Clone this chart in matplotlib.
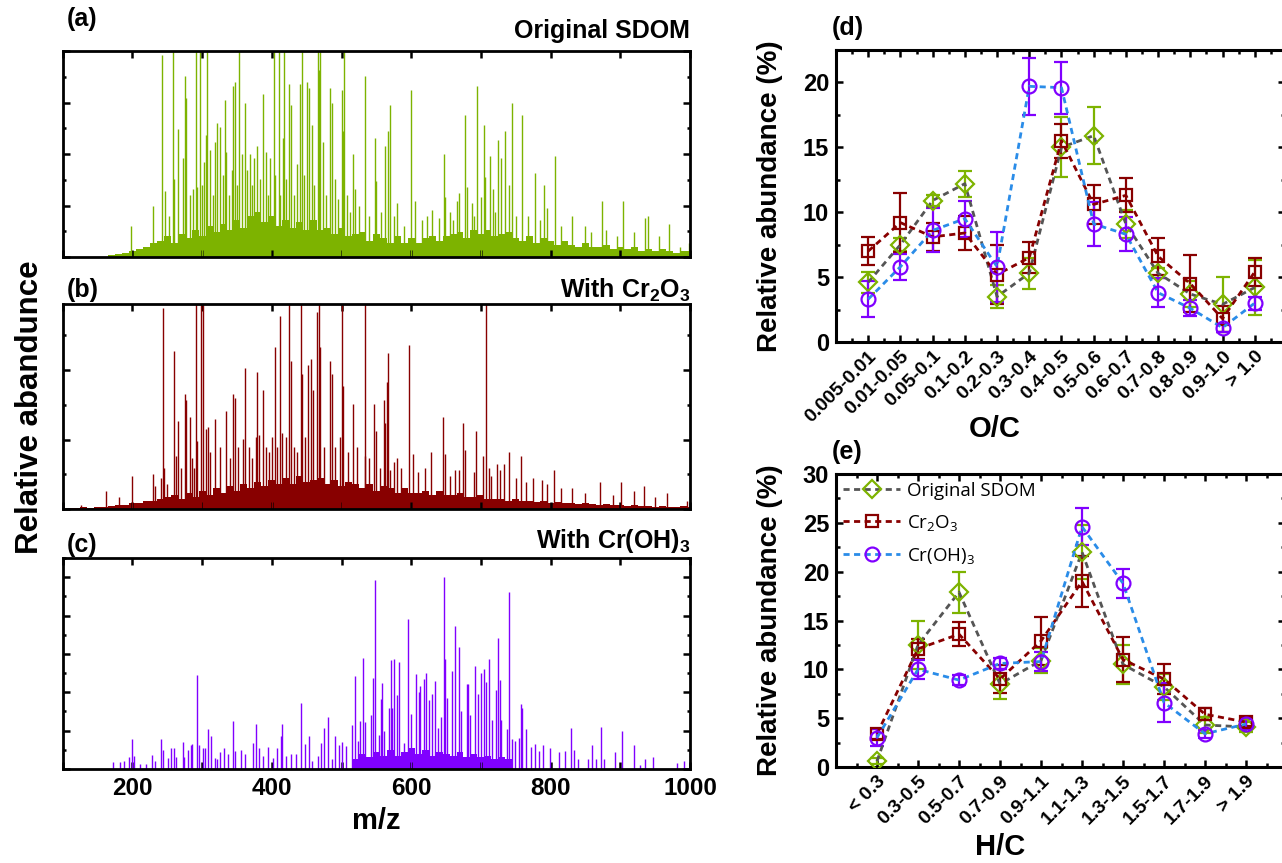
import matplotlib
matplotlib.use("Agg")
import matplotlib.pyplot as plt
from matplotlib.ticker import MultipleLocator, NullFormatter

plt.rcParams['font.family'] = ['Liberation Sans', 'DejaVu Sans']
plt.rcParams['font.weight'] = 'bold'
plt.rcParams['mathtext.default'] = 'regular'

# ---------------- spectra data (m/z, relative height) ----------------
# (a) original SDOM
a_grass_mz = list(range(170, 1001, 10))
a_grass_h = [0.01, 0.015, 0.02, 0.03, 0.04, 0.05, 0.07, 0.08, 0.10, 0.07, 0.11, 0.09, 0.13, 0.10,
             0.15, 0.12, 0.16, 0.13, 0.18, 0.14, 0.20, 0.22, 0.17, 0.20, 0.15, 0.18, 0.14, 0.17,
             0.13, 0.18, 0.13, 0.14, 0.11, 0.14, 0.10, 0.11, 0.12, 0.08, 0.11, 0.09, 0.07, 0.10,
             0.07, 0.09, 0.07, 0.09, 0.10, 0.08, 0.10, 0.11, 0.12, 0.09, 0.13, 0.11, 0.13, 0.10,
             0.11, 0.12, 0.09, 0.08, 0.10, 0.07, 0.09, 0.08, 0.06, 0.08, 0.06, 0.05, 0.07, 0.05,
             0.05, 0.06, 0.04, 0.05, 0.04, 0.05, 0.03, 0.04, 0.03, 0.04, 0.03, 0.02, 0.03, 0.03]
a_mz = [198, 229, 242, 247, 258, 260, 265, 273, 275, 277, 287, 291, 292, 297, 303, 305, 307, 311,
        319, 321, 326, 333, 335, 343, 345, 347, 353, 357, 362, 369, 374, 379, 387, 392, 397, 403,
        410, 416, 418, 425, 427, 440, 443, 451, 454, 457, 466, 468, 469, 474, 483, 486, 500, 502,
        503, 516, 520, 534, 548, 550, 563, 566, 569, 576, 580, 599, 606, 630, 640, 647, 649, 665,
        669, 677, 680, 687, 695, 700, 705, 706, 713, 718, 725, 729, 735, 740, 744, 759, 777, 790,
        795, 807, 831, 849, 874, 904, 936, 940, 970, 985, 998,
        252, 282, 300, 315, 330, 338, 350, 365, 372, 383, 395, 405, 412, 421, 432, 436, 446, 461,
        478, 490, 495, 508, 512, 525, 540, 556, 590, 615, 622, 655, 660, 690, 720, 750, 768, 785,
        815, 858, 880, 895, 920, 955]
a_h = [0.15, 0.25, 0.98, 0.32, 1.2, 0.38, 0.62, 0.48, 0.88, 0.77, 0.33, 1.2, 0.34, 1.2, 0.46, 0.59,
       1.2, 0.52, 0.56, 0.65, 0.63, 0.76, 0.51, 0.42, 0.83, 0.85, 1.2, 0.50, 0.75, 0.50, 0.48, 0.54,
       0.79, 0.51, 0.48, 1.2, 1.2, 0.58, 1.2, 0.84, 0.74, 0.84, 1.2, 0.85, 0.82, 0.64, 1.2, 0.91,
       1.2, 0.56, 0.82, 0.75, 0.81, 0.61, 1.2, 0.50, 0.33, 0.88, 0.58, 0.37, 0.54, 0.61, 0.74, 0.20,
       0.26, 0.81, 0.27, 0.23, 0.19, 0.50, 0.29, 0.27, 0.31, 0.69, 0.34, 0.26, 0.83, 0.29, 0.64,
       0.39, 0.49, 0.33, 0.57, 0.48, 0.61, 0.35, 0.75, 0.69, 0.41, 0.35, 0.24, 0.49, 0.20, 0.15,
       0.27, 0.27, 0.19, 0.20, 0.16, 0.05, 0.07,
       0.20, 0.30, 0.35, 0.30, 0.40, 0.30, 0.35, 0.42, 0.35, 0.38, 0.30, 0.40, 0.30, 0.38, 0.30,
       0.45, 0.40, 0.35, 0.30, 0.38, 0.28, 0.30, 0.22, 0.25, 0.20, 0.22, 0.15, 0.18, 0.20, 0.22,
       0.18, 0.20, 0.22, 0.20, 0.20, 0.18, 0.15, 0.12, 0.13, 0.10, 0.12, 0.10]

# (b) with Cr2O3
b_grass_mz = list(range(110, 1001, 10))
b_grass_h = [0.005, 0.005, 0.01, 0.005, 0.01, 0.01, 0.015, 0.02, 0.02, 0.03, 0.03, 0.04, 0.04,
             0.05, 0.06, 0.07, 0.05, 0.08, 0.06, 0.09, 0.07, 0.10, 0.08, 0.11, 0.09, 0.12, 0.10,
             0.13, 0.11, 0.14, 0.12, 0.15, 0.12, 0.16, 0.13, 0.14, 0.15, 0.12, 0.14, 0.11, 0.13,
             0.12, 0.10, 0.12, 0.09, 0.11, 0.10, 0.08, 0.10, 0.08, 0.08, 0.09, 0.07, 0.09, 0.07,
             0.07, 0.08, 0.06, 0.06, 0.07, 0.05, 0.05, 0.05, 0.04, 0.05, 0.04, 0.04, 0.035, 0.04,
             0.03, 0.035, 0.03, 0.03, 0.025, 0.03, 0.025, 0.02, 0.025, 0.02, 0.02, 0.015, 0.02,
             0.015, 0.015, 0.01, 0.015, 0.01, 0.01, 0.015, 0.01]
b_mz = [126, 162, 181, 199, 229, 233, 241, 244, 246, 260, 262, 266, 276, 277, 282, 288, 291, 293,
        298, 301, 305, 309, 319, 334, 345, 347, 358, 362, 378, 379, 381, 388, 400, 404, 412, 415,
        425, 428, 442, 443, 452, 456, 459, 465, 468, 469, 483, 486, 498, 501, 502, 516, 533, 534,
        547, 549, 561, 563, 565, 567, 569, 575, 580, 597, 603, 629, 645, 648, 663, 668, 675, 677,
        693, 703, 708, 711, 723, 727, 733, 741, 757, 775, 787, 805, 830, 871, 901, 934, 967, 995,
        250, 270, 285, 312, 325, 340, 352, 368, 372, 392, 396, 408, 420, 432, 436, 448, 475, 490,
        510, 522, 540, 555, 585, 610, 620, 655, 690, 715, 750, 765, 795, 815, 850, 890, 920, 950]
b_h = [0.02, 0.09, 0.06, 0.16, 0.17, 0.11, 0.15, 0.98, 0.20, 0.77, 0.26, 0.43, 0.56, 0.53, 0.45,
       0.20, 1.2, 0.33, 1.2, 1.2, 0.39, 0.40, 0.44, 0.48, 0.56, 0.54, 0.34, 0.69, 0.35, 0.67, 0.36,
       0.58, 0.35, 0.79, 0.94, 0.37, 1.2, 0.72, 1.2, 0.66, 0.70, 0.73, 0.58, 0.96, 1.2, 0.79, 0.72,
       0.66, 0.35, 1.2, 0.60, 0.51, 0.26, 1.2, 0.51, 0.38, 0.53, 0.42, 0.62, 0.76, 0.19, 0.23,
       0.25, 0.80, 0.27, 0.28, 0.45, 0.27, 0.19, 0.19, 0.42, 0.29, 0.38, 0.26, 1.2, 0.20, 0.22,
       0.19, 0.22, 0.28, 0.26, 0.15, 0.14, 0.19, 0.10, 0.13, 0.13, 0.11, 0.08, 0.04,
       0.12, 0.20, 0.25, 0.28, 0.30, 0.25, 0.30, 0.30, 0.25, 0.30, 0.28, 0.30, 0.35, 0.30, 0.28,
       0.35, 0.30, 0.30, 0.28, 0.30, 0.25, 0.20, 0.20, 0.18, 0.20, 0.16, 0.18, 0.16, 0.15, 0.13,
       0.12, 0.10, 0.08, 0.07, 0.09, 0.06]

# (c) with Cr(OH)3
c_grass_mz = list(range(520, 741, 10))
c_grass_h = [0.05, 0.08, 0.06, 0.09, 0.07, 0.10, 0.07, 0.09, 0.11, 0.08, 0.10, 0.07, 0.09, 0.08,
             0.07, 0.09, 0.06, 0.08, 0.06, 0.07, 0.05, 0.06, 0.05]
c_mz = [172, 182, 188, 195, 200, 203, 211, 219, 228, 233, 241, 244, 251, 255, 259, 262, 272, 274,
        280, 284, 286, 293, 295, 302, 304, 308, 313, 318, 322, 326, 332, 337, 344, 347, 356, 361,
        373, 378, 381, 387, 394, 402, 408, 413, 415, 421, 428, 435, 442, 448, 453, 458, 466, 470,
        475, 481, 486, 490, 496, 501, 506, 515, 519, 523, 527, 531, 534, 543, 545, 548, 554, 556,
        558, 561, 568, 571, 573, 575, 579, 583, 589, 595, 600, 607, 611, 613, 619, 621, 625, 630,
        634, 639, 643, 647, 649, 652, 659, 663, 668, 672, 680, 681, 685, 691, 696, 700, 705, 708,
        711, 716, 721, 724, 728, 729, 737, 741, 744, 749, 754, 758, 759, 765, 772, 778, 783, 789,
        799, 812, 820, 829, 834, 840, 854, 860, 865, 872, 877, 893, 903, 919, 928, 936, 947, 981,
        992]
c_h = [0.035, 0.035, 0.04, 0.06, 0.155, 0.07, 0.026, 0.026, 0.073, 0.04, 0.157, 0.10, 0.056, 0.108,
       0.108, 0.06, 0.14, 0.064, 0.10, 0.125, 0.13, 0.49, 0.125, 0.108, 0.11, 0.207, 0.17, 0.056,
       0.05, 0.087, 0.108, 0.08, 0.25, 0.094, 0.10, 0.077, 0.134, 0.235, 0.108, 0.07, 0.113, 0.056,
       0.108, 0.172, 0.233, 0.07, 0.077, 0.08, 0.343, 0.129, 0.174, 0.04, 0.07, 0.134, 0.216, 0.27,
       0.052, 0.174, 0.125, 0.143, 0.12, 0.23, 0.485, 0.146, 0.25, 0.577, 0.247, 0.28, 0.476, 0.986,
       0.177, 0.365, 0.447, 0.20, 0.317, 0.569, 0.32, 0.574, 0.386, 0.557, 0.134, 0.78, 0.287,
       0.494, 0.40, 0.435, 0.468, 0.50, 0.36, 0.39, 0.459, 0.216, 0.273, 1.0, 0.574, 0.369, 0.511,
       0.743, 0.638, 0.303, 0.442, 0.442, 0.282, 0.539, 0.39, 0.50, 0.522, 0.456, 0.574, 0.256,
       0.412, 0.682, 0.464, 0.256, 0.209, 0.922, 0.155, 0.146, 0.163, 0.337, 0.32, 0.207, 0.113,
       0.129, 0.094, 0.125, 0.108, 0.09, 0.094, 0.212, 0.10, 0.052, 0.052, 0.125, 0.052, 0.22,
       0.052, 0.087, 0.20, 0.125, 0.02, 0.052, 0.06, 0.03, 0.04]

# ---------------- van Krevelen class distributions ----------------
oc_labels = ['0.005-0.01', '0.01-0.05', '0.05-0.1', '0.1-0.2', '0.2-0.3', '0.3-0.4', '0.4-0.5',
             '0.5-0.6', '0.6-0.7', '0.7-0.8', '0.8-0.9', '0.9-1.0', '> 1.0']
oc_orig = [4.6, 7.5, 10.9, 12.2, 3.5, 5.3, 15.0, 15.9, 9.1, 5.3, 3.7, 2.9, 4.2]
oc_orig_err = [0.8, 0.5, 0.4, 1.0, 0.9, 1.2, 2.3, 2.2, 1.1, 0.4, 1.0, 2.1, 2.1]
oc_cr2o3 = [7.0, 9.2, 8.1, 8.4, 5.2, 6.5, 15.5, 10.6, 11.3, 6.6, 4.5, 1.8, 5.4]
oc_cr2o3_err = [1.1, 2.3, 1.1, 1.3, 2.3, 1.2, 1.3, 1.5, 1.3, 1.4, 2.2, 1.0, 1.1]
oc_croh = [3.3, 5.8, 8.6, 9.5, 5.8, 19.7, 19.6, 9.1, 8.3, 3.8, 2.6, 1.1, 3.0]
oc_croh_err = [1.4, 1.0, 1.7, 1.4, 2.7, 2.2, 2.0, 1.7, 1.3, 1.1, 0.6, 0.3, 0.5]

hc_labels = ['< 0.3', '0.3-0.5', '0.5-0.7', '0.7-0.9', '0.9-1.1', '1.1-1.3', '1.3-1.5',
             '1.5-1.7', '1.7-1.9', '> 1.9']
hc_orig = [0.6, 12.5, 17.9, 8.5, 10.9, 22.0, 10.5, 8.2, 4.3, 4.1]
hc_orig_err = [0.3, 2.5, 2.1, 1.5, 1.3, 2.8, 2.0, 1.3, 0.8, 0.5]
hc_cr2o3 = [3.4, 12.1, 13.6, 9.0, 12.9, 19.0, 11.0, 9.0, 5.4, 4.6]
hc_cr2o3_err = [0.5, 1.0, 1.2, 1.4, 2.5, 2.6, 2.3, 1.5, 0.6, 0.4]
hc_croh = [3.0, 10.0, 8.9, 10.6, 10.8, 24.6, 18.8, 6.6, 3.4, 4.4]
hc_croh_err = [0.9, 1.0, 0.5, 0.6, 1.0, 1.9, 1.5, 2.0, 0.4, 0.5]

series_names = ['Original SDOM', 'Cr$_2$O$_3$', 'Cr(OH)$_3$']

green = '#7DB300'
dred = '#880000'
purple = '#8000FF'
blue = '#2A8CE8'
gray = '#555555'

fig = plt.figure(figsize=(12.82, 8.63), dpi=100)

W, H = 1282.0, 863.0


def box(left, top, right, bottom):
    return [left / W, 1 - bottom / H, (right - left) / W, (bottom - top) / H]


def style_spectrum(ax, ymax, ymaj, ymin, labels):
    ax.set_xlim(100, 1000)
    ax.set_ylim(0, ymax)
    ax.xaxis.set_major_locator(MultipleLocator(200))
    ax.xaxis.set_minor_locator(MultipleLocator(100))
    ax.yaxis.set_major_locator(MultipleLocator(ymaj))
    ax.yaxis.set_minor_locator(MultipleLocator(ymin))
    ax.tick_params(which='both', direction='in', top=True, right=True, width=1.8)
    ax.tick_params(which='major', length=5)
    ax.tick_params(axis='x', which='minor', length=5)
    ax.tick_params(axis='y', which='minor', length=2.5)
    ax.yaxis.set_major_formatter(NullFormatter())
    if not labels:
        ax.xaxis.set_major_formatter(NullFormatter())
    for s in ax.spines.values():
        s.set_linewidth(2.0)


# (a)
ax_a = fig.add_axes(box(62.7, 51, 690, 257))
ax_a.bar(a_grass_mz, a_grass_h, width=10, color=green, linewidth=0)
ax_a.vlines(a_mz, 0, a_h, color=green, lw=1.0)
style_spectrum(ax_a, 1.0, 0.25, 0.125, False)

# (b)
ax_b = fig.add_axes(box(62.7, 304, 690, 509))
ax_b.bar(b_grass_mz, b_grass_h, width=10, color=dred, linewidth=0)
ax_b.vlines(b_mz, 0, b_h, color=dred, lw=1.0)
style_spectrum(ax_b, 1.0, 2 / 5.9, 1 / 5.9, False)

# (c)
ax_c = fig.add_axes(box(62.7, 558, 690, 769))
ax_c.bar(c_grass_mz, c_grass_h, width=10, color=purple, linewidth=0)
ax_c.vlines(c_mz, 0, c_h, color=purple, lw=1.0)
style_spectrum(ax_c, 1.1, 0.2, 0.1, True)
ax_c.tick_params(axis='x', pad=6, labelsize=17.5)
for t in ax_c.get_xticklabels():
    t.set_fontweight('bold')
ax_c.set_xlabel('m/z', fontsize=21, fontweight='bold', labelpad=5)

fig.text(67 / W, 1 - 19 / H, '(a)', fontsize=18, fontweight='bold', va='center', ha='left')
fig.text(690 / W, 1 - 31 / H, 'Original SDOM', fontsize=18, fontweight='bold', va='center', ha='right')
fig.text(67 / W, 1 - 290 / H, '(b)', fontsize=18, fontweight='bold', va='center', ha='left')
fig.text(690 / W, 1 - 290 / H, 'With Cr$_2$O$_3$', fontsize=18, fontweight='bold',
         va='center', ha='right')
fig.text(67 / W, 1 - 545 / H, '(c)', fontsize=18, fontweight='bold', va='center', ha='left')
fig.text(690 / W, 1 - 541 / H, 'With Cr(OH)$_3$', fontsize=18, fontweight='bold',
         va='center', ha='right')
fig.text(30 / W, 1 - 407 / H, 'Relative abandunce', fontsize=22.5, fontweight='bold', rotation=90,
         va='center', ha='center')


# ---------------- right panels ----------------
def draw_series(ax, xs, ys, errs, lcolor, mcolor, marker, ms, label):
    ax.errorbar(xs, ys, yerr=errs, fmt='none', ecolor=mcolor, elinewidth=1.6, capsize=5,
                capthick=1.6, zorder=3)
    ax.plot(xs, ys, ls=(0, (2.2, 1.6)), lw=2.0, color=lcolor, marker=marker, ms=ms, mfc='none',
            mec=mcolor, mew=1.6, label=label, zorder=4)


def style_cat(ax, labels, xmax, ymax):
    ax.set_xlim(0, xmax)
    ax.set_ylim(0, ymax)
    ax.set_xticks(range(1, len(labels) + 1))
    ax.set_xticklabels(labels, rotation=45, ha='right', rotation_mode='anchor',
                       fontsize=14, fontweight='bold')
    ax.xaxis.set_minor_locator(MultipleLocator(0.5))
    ax.yaxis.set_major_locator(MultipleLocator(5))
    ax.yaxis.set_minor_locator(MultipleLocator(2.5))
    ax.tick_params(which='both', direction='in', top=True, right=True, width=1.8)
    ax.tick_params(which='major', length=5)
    ax.tick_params(which='minor', length=3)
    ax.tick_params(axis='y', labelsize=17, pad=5)
    ax.tick_params(axis='x', pad=4)
    for t in ax.get_yticklabels():
        t.set_fontweight('bold')
    for s in ax.spines.values():
        s.set_linewidth(2.2)


x_oc = list(range(1, len(oc_labels) + 1))
x_hc = list(range(1, len(hc_labels) + 1))

ax_d = fig.add_axes(box(836, 50, 1285, 342))
draw_series(ax_d, x_oc, oc_orig, oc_orig_err, gray, green, 'D', 9, series_names[0])
draw_series(ax_d, x_oc, oc_cr2o3, oc_cr2o3_err, dred, dred, 's', 8, series_names[1])
draw_series(ax_d, x_oc, oc_croh, oc_croh_err, blue, purple, 'o', 10, series_names[2])
style_cat(ax_d, oc_labels, 13.94, 22.5)
ax_d.set_ylabel('Relative abundance (%)', fontsize=20, fontweight='bold')
ax_d.yaxis.set_label_coords(-0.118, 0.5)
ax_d.set_xlabel('O/C', fontsize=21, fontweight='bold')
ax_d.xaxis.set_label_coords(0.354, -0.25)

ax_e = fig.add_axes(box(836, 474, 1285, 767))
draw_series(ax_e, x_hc, hc_orig, hc_orig_err, gray, green, 'D', 9, series_names[0])
draw_series(ax_e, x_hc, hc_cr2o3, hc_cr2o3_err, dred, dred, 's', 8, series_names[1])
draw_series(ax_e, x_hc, hc_croh, hc_croh_err, blue, purple, 'o', 10, series_names[2])
style_cat(ax_e, hc_labels, 10.95, 30)
ax_e.set_ylabel('Relative abundance (%)', fontsize=20, fontweight='bold')
ax_e.yaxis.set_label_coords(-0.118, 0.5)
ax_e.set_xlabel('H/C', fontsize=21, fontweight='bold')
ax_e.xaxis.set_label_coords(0.365, -0.225)
ax_e.legend(loc='upper left', frameon=False, prop={'family': 'Open Sans', 'size': 13.5, 'weight': 'normal'},
            handlelength=3.0, handletextpad=0.4, borderaxespad=0.1, labelspacing=0.7,
            borderpad=0.3)

fig.text(832 / W, 1 - 28 / H, '(d)', fontsize=18, fontweight='bold', va='center', ha='left')
fig.text(832 / W, 1 - 452 / H, '(e)', fontsize=18, fontweight='bold', va='center', ha='left')

fig.savefig('out.png', dpi=100)
